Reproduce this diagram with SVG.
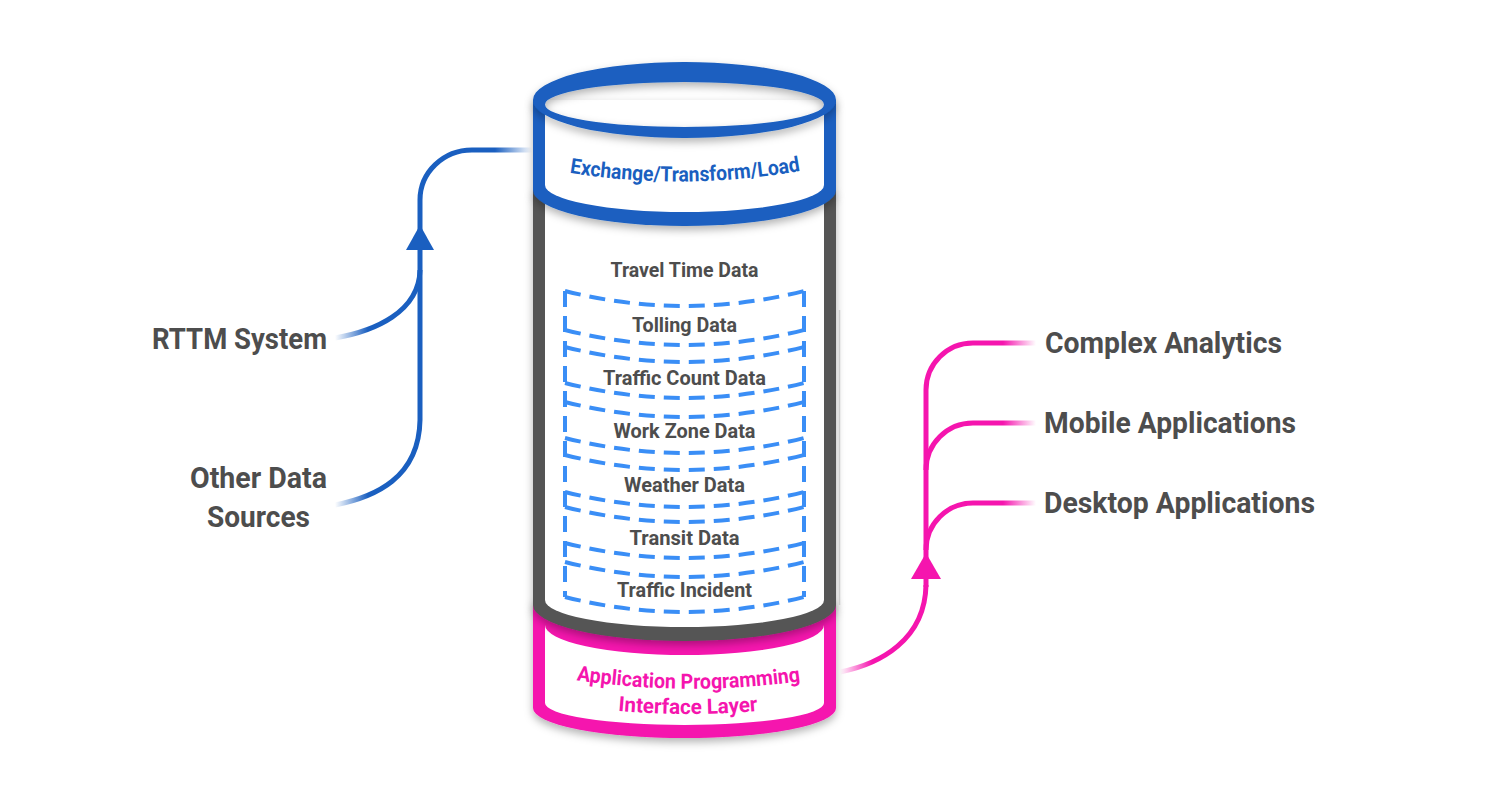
<svg xmlns="http://www.w3.org/2000/svg" width="1500" height="800" viewBox="0 0 1500 800">
<style>
.lbl{font-family:Roboto,"Liberation Sans",sans-serif;font-weight:700;fill:#4d4d4d}
.big{font-size:30px}
.in{font-size:21px;text-anchor:middle}
.dash{fill:none;stroke:#3a8ef6;stroke-width:4;stroke-dasharray:16 9}
.bl{fill:none;stroke-width:5}
.pk{fill:none;stroke-width:5}
.btxt{font-family:Roboto,"Liberation Sans",sans-serif;font-weight:700;font-size:21px;fill:#1a5fc0}
.ptxt{font-family:Roboto,"Liberation Sans",sans-serif;font-weight:700;font-size:21px;fill:#f515ae}
</style>
<defs>
<filter id="sh" x="-10%" y="-20%" width="120%" height="150%">
<feDropShadow dx="0" dy="4" stdDeviation="4" flood-color="#000" flood-opacity="0.3"/>
</filter>
<linearGradient id="gBlueR" gradientUnits="userSpaceOnUse" x1="495" y1="0" x2="532" y2="0">
<stop offset="0" stop-color="#1a5fc0"/><stop offset="1" stop-color="#1a5fc0" stop-opacity="0"/>
</linearGradient>
<linearGradient id="gBlueL" gradientUnits="userSpaceOnUse" x1="335" y1="0" x2="368" y2="0">
<stop offset="0" stop-color="#1a5fc0" stop-opacity="0"/><stop offset="1" stop-color="#1a5fc0"/>
</linearGradient>
<linearGradient id="gPinkL" gradientUnits="userSpaceOnUse" x1="840" y1="0" x2="872" y2="0">
<stop offset="0" stop-color="#f515ae" stop-opacity="0"/><stop offset="1" stop-color="#f515ae"/>
</linearGradient>
<linearGradient id="gPinkR" gradientUnits="userSpaceOnUse" x1="1003" y1="0" x2="1036" y2="0">
<stop offset="0" stop-color="#f515ae"/><stop offset="1" stop-color="#f515ae" stop-opacity="0"/>
</linearGradient>
<path id="tpEtl" d="M565,172 Q684,192 805,170"/>
<path id="tpApi1" d="M575,680 Q688,697 802,681"/>
<path id="tpApi2" d="M618,711 Q688,717 758,711"/>
</defs>
<rect width="1500" height="800" fill="#fff"/>

<g id="api-layer">
<path d="M533,600 L533,708 A151.5,30 0 0 0 836,708 L836,600 Z" fill="#f515ae" filter="url(#sh)"/>
<path d="M545,625 A139.5,30 0 0 0 824,625 L824,703 A139.5,22 0 0 1 545,703 Z" fill="#fff"/>
<text class="ptxt"><textPath href="#tpApi1" startOffset="50%" text-anchor="middle" textLength="225" lengthAdjust="spacingAndGlyphs">Application Programming</textPath></text>
<text class="ptxt"><textPath href="#tpApi2" startOffset="50%" text-anchor="middle" textLength="140" lengthAdjust="spacingAndGlyphs">Interface Layer</textPath></text>
</g>

<g id="data-store">
<path d="M533,190 L533,605 A151.5,36 0 0 0 836,605 L836,190 Z" fill="#555555" filter="url(#sh)"/>
<path d="M545,190 L545,600 A139.5,27 0 0 0 824,600 L824,190 Z" fill="#fff"/>
<line x1="839.5" y1="310" x2="839.5" y2="605" stroke="#cfcfcf" stroke-width="1.5"/>
<g class="dash-set">
<path class="dash" d="M565,291 L565,597 M804,291 L804,597"/>
<path class="dash" d="M565,291 Q684.5,321 804,291"/>
<path class="dash" d="M565,330 Q684.5,360 804,330"/>
<path class="dash" d="M565,347 Q684.5,377 804,347"/>
<path class="dash" d="M565,383 Q684.5,413 804,383"/>
<path class="dash" d="M565,402 Q684.5,432 804,402"/>
<path class="dash" d="M565,438 Q684.5,468 804,438"/>
<path class="dash" d="M565,455 Q684.5,485 804,455"/>
<path class="dash" d="M565,492 Q684.5,522 804,492"/>
<path class="dash" d="M565,507 Q684.5,537 804,507"/>
<path class="dash" d="M565,543 Q684.5,573 804,543"/>
<path class="dash" d="M565,562 Q684.5,592 804,562"/>
<path class="dash" d="M565,597 Q684.5,627 804,597"/>
</g>
<text class="lbl in" x="684.5" y="277" textLength="148" lengthAdjust="spacingAndGlyphs">Travel Time Data</text>
<text class="lbl in" x="684.5" y="332" textLength="105" lengthAdjust="spacingAndGlyphs">Tolling Data</text>
<text class="lbl in" x="684.5" y="385" textLength="163" lengthAdjust="spacingAndGlyphs">Traffic Count Data</text>
<text class="lbl in" x="684.5" y="438" textLength="142" lengthAdjust="spacingAndGlyphs">Work Zone Data</text>
<text class="lbl in" x="684.5" y="492" textLength="121" lengthAdjust="spacingAndGlyphs">Weather Data</text>
<text class="lbl in" x="684.5" y="545" textLength="110" lengthAdjust="spacingAndGlyphs">Transit Data</text>
<text class="lbl in" x="684.5" y="597" textLength="135" lengthAdjust="spacingAndGlyphs">Traffic Incident</text>
</g>

<g id="etl-layer">
<path d="M533,100 L533,190 A151.5,36 0 0 0 836,190 L836,100 Z" fill="#1a5fc0" filter="url(#sh)"/>
<path d="M545,100 L545,185 A139.5,27 0 0 0 824,185 L824,100 Z" fill="#fff"/>
<path d="M533,100 A151.5,38 0 1 0 836,100 A151.5,38 0 1 0 533,100 Z M545,104.5 A139.5,22.5 0 1 0 824,104.5 A139.5,22.5 0 1 0 545,104.5 Z" fill="#1a5fc0" fill-rule="evenodd" filter="url(#sh)"/>
<text class="btxt"><textPath href="#tpEtl" startOffset="50%" text-anchor="middle" textLength="232" lengthAdjust="spacingAndGlyphs">Exchange/Transform/Load</textPath></text>
</g>

<g id="connectors">
<path class="bl" stroke="url(#gBlueR)" d="M420,420 L420,200 A52,50 0 0 1 472,150 L532,150"/>
<path class="bl" stroke="url(#gBlueL)" d="M335,338 C375,331 419,312 420,270"/>
<path class="bl" stroke="url(#gBlueL)" d="M335,505 C375,497 419,478 420,420"/>
<polygon points="420,225 406,250 434,250" fill="#1a5fc0"/>
<path class="pk" stroke="url(#gPinkL)" d="M840,672 C880,664 925,640 926,585"/>
<path class="pk" stroke="url(#gPinkR)" d="M926,587 L926,390 A47,47 0 0 1 973,343 L1036,343"/>
<path class="pk" stroke="url(#gPinkR)" d="M926,470 A47,47 0 0 1 973,423 L1036,423"/>
<path class="pk" stroke="url(#gPinkR)" d="M926,550 A47,47 0 0 1 973,503 L1036,503"/>
<polygon points="926,553 911,579 941,579" fill="#f515ae"/>
</g>

<g id="rttm"><text class="lbl big" x="327" y="349" text-anchor="end" textLength="175" lengthAdjust="spacingAndGlyphs">RTTM System</text></g>
<g id="other-sources">
<text class="lbl big" x="258.5" y="488" text-anchor="middle" textLength="137" lengthAdjust="spacingAndGlyphs">Other Data</text>
<text class="lbl big" x="258.5" y="527" text-anchor="middle" textLength="103" lengthAdjust="spacingAndGlyphs">Sources</text>
</g>
<g id="complex-analytics"><text class="lbl big" x="1045" y="353" textLength="237" lengthAdjust="spacingAndGlyphs">Complex Analytics</text></g>
<g id="mobile-apps"><text class="lbl big" x="1044" y="433" textLength="252" lengthAdjust="spacingAndGlyphs">Mobile Applications</text></g>
<g id="desktop-apps"><text class="lbl big" x="1044" y="513" textLength="271" lengthAdjust="spacingAndGlyphs">Desktop Applications</text></g>
</svg>
